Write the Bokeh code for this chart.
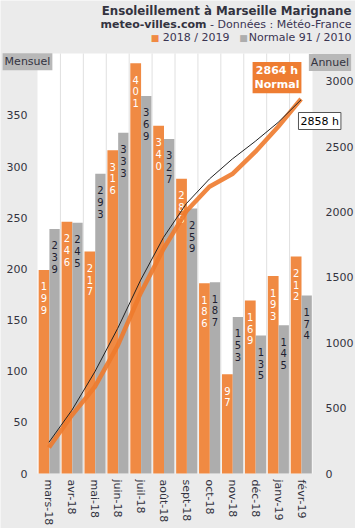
from bokeh.plotting import figure
from bokeh.models import Range1d, LinearAxis, FixedTicker, ColumnDataSource, Label
from bokeh.embed import file_html
from bokeh.resources import INLINE
from bokeh.core.properties import value

# ---------------- data ----------------
months = ["mars-18", "avr-18", "mai-18", "juin-18", "juil-18", "août-18",
          "sept-18", "oct-18", "nov-18", "déc-18", "janv-19", "févr-19"]
sun_2018 = [199, 246, 217, 316, 401, 340, 288, 186, 97, 169, 193, 212]
sun_normal = [239, 245, 293, 333, 369, 327, 259, 187, 153, 135, 145, 174]
cum_2018 = [199, 445, 662, 978, 1379, 1719, 2007, 2193, 2290, 2459, 2652, 2864]
cum_normal = [239, 484, 777, 1110, 1479, 1806, 2065, 2252, 2405, 2540, 2685, 2858]
left_ticks = [0, 50, 100, 150, 200, 250, 300, 350]
right_ticks = [0, 500, 1000, 1500, 2000, 2500, 3000]
title_line1 = "Ensoleillement à Marseille Marignane"
title_site = "meteo-villes.com"
title_source = "\u00a0- Données : Météo-France"
legend_2018 = "2018 / 2019"
legend_normal = "Normale 91 / 2010"
total_2018_text = "2864 h\nNormal"
total_normal_text = "2858 h"

# ---------------- layout constants (pixels) ----------------
W, H = 355, 528
PL, PR, PT, PB = 37, 312, 53, 473          # white plot area edges
Y_MAX, YR_MAX = 410.5, 3212                 # top of left / right scales
ux = (PR - PL) / 12
uy = (PB - PT) / Y_MAX
ur = (PB - PT) / YR_MAX

FONT = "DejaVu Sans"
ORANGE = "#f08a43"
ORANGE_LINE = "#ee7a2c"
ORANGE_BOX = "#ee7d32"
GRAY = "#adadad"
BG = "#ebebeb"
TXT = "#333340"
TXT2 = "#3a3452"

p = figure(width=W, height=H, output_backend="svg", toolbar_location=None,
           x_range=Range1d(-PL / ux, 12 + (W - PR) / ux),
           y_range=Range1d(-(H - PB) / uy, Y_MAX + PT / uy),
           min_border=0, min_border_left=0, min_border_right=0,
           min_border_top=0, min_border_bottom=0,
           background_fill_color=BG, border_fill_color=BG, outline_line_color=None)
p.extra_y_ranges = {"cum": Range1d(-(H - PB) / ur, YR_MAX + PT / ur), "py": Range1d(H, 0)}
p.extra_x_ranges = {"px": Range1d(0, W)}
p.xgrid.grid_line_color = None
p.ygrid.grid_line_color = None

n = len(months)
idx = list(range(n))

# white plot area and category separators
p.quad(left=[0], right=[n], bottom=[0], top=[Y_MAX], fill_color="white", line_color=None)
p.segment(x0=idx[1:], y0=[0] * (n - 1), x1=idx[1:], y1=[Y_MAX] * (n - 1),
          line_color="#e0e0e0", line_width=1)

src = ColumnDataSource(dict(
    xo=[i + 0.285 for i in idx], xg=[i + 0.745 for i in idx], xc=[i + 0.5 for i in idx],
    v18=sun_2018, vn=sun_normal, c18=cum_2018, cn=cum_normal))

p.vbar(x="xo", top="v18", width=0.47, source=src, fill_color=ORANGE, line_color=None)
p.vbar(x="xg", top="vn", width=0.45, source=src, fill_color=GRAY, line_color=None)

def digit_source(xs, vals):
    d = dict(x=[], y=[], t=[], off=[])
    for x, v in zip(xs, vals):
        for k, ch in enumerate(str(v)):
            d["x"].append(x)
            d["y"].append(v)
            d["t"].append(ch)
            d["off"].append(16.5 + 11.7 * k)
    return ColumnDataSource(d)

for xs, vals, col in ((src.data["xo"], sun_2018, "white"), (src.data["xg"], sun_normal, "#1e1e30")):
    p.text(x="x", y="y", text="t", y_offset="off", source=digit_source(xs, vals),
           text_align="center", text_baseline="middle", text_font=value(FONT),
           text_font_size="10px", text_color=col)

p.line(x="xc", y="c18", source=src, y_range_name="cum", line_width=4.5,
       line_color=ORANGE_LINE, line_alpha=0.9)
p.line(x="xc", y="cn", source=src, y_range_name="cum", line_width=1, line_color="#222222")

# axes (drawn at fixed locations on the edges of the white plot area)
def style_axis(ax):
    ax.axis_line_color = None
    ax.major_tick_line_color = None
    ax.minor_tick_line_color = None
    ax.major_tick_out = 0
    ax.major_tick_in = 0
    ax.major_label_text_font = FONT
    ax.major_label_text_font_size = "11px"
    ax.major_label_text_color = TXT

p.xaxis.ticker = FixedTicker(ticks=src.data["xc"])
p.xaxis.major_label_overrides = {x: m for x, m in zip(src.data["xc"], months)}
p.xaxis.major_label_orientation = "vertical"
p.xaxis.major_label_standoff = 6
p.xaxis.fixed_location = 0
style_axis(p.xaxis[0])

p.yaxis.ticker = FixedTicker(ticks=left_ticks)
p.yaxis.major_label_standoff = 10
p.yaxis.fixed_location = 0
style_axis(p.yaxis[0])

rax = LinearAxis(y_range_name="cum", ticker=FixedTicker(ticks=right_ticks),
                 major_label_standoff=13, fixed_location=n)
style_axis(rax)
p.add_layout(rax, "right")

# ---------------- annotations (pixel positions) ----------------
def lab(x, y, text, **kw):
    opts = dict(x=x, y=y, text=text, x_range_name="px", y_range_name="py",
                text_font=FONT, text_font_size="11px", text_color=TXT,
                text_baseline="middle", text_align="right")
    opts.update(kw)
    p.add_layout(Label(**opts))

lab(351, 10, title_line1, text_font_style="bold", text_font_size="11.8px")
lab(351, 23.5, title_source, text_color=TXT2)
lab(206, 23.5, title_site, text_font_style="bold", text_font_size="11px")
lab(351, 37, legend_normal, text_color=TXT2)
lab(243, 37, "■", text_align="center", text_color=GRAY, text_font_size="9px")
lab(229, 37, legend_2018, text_color=TXT2)
lab(154.5, 37, "■", text_align="center", text_color=ORANGE, text_font_size="9px")

lab(27, 61.3, "Mensuel", text_align="center", background_fill_color="#b8b8b8", padding=2)
lab(329.5, 62, "Annuel", text_align="center", background_fill_color="#b8b8b8", padding=2)

lab(276.5, 77.2, total_2018_text, text_align="center", text_color="white",
    text_font_style="bold", background_fill_color=ORANGE_BOX, padding=2, text_line_height=1.1)
lab(319.2, 120.5, total_normal_text, text_align="center", text_color="black",
    background_fill_color="white", border_line_color="#555555", padding=2)

open("out.html", "w").write(file_html(p, INLINE))
